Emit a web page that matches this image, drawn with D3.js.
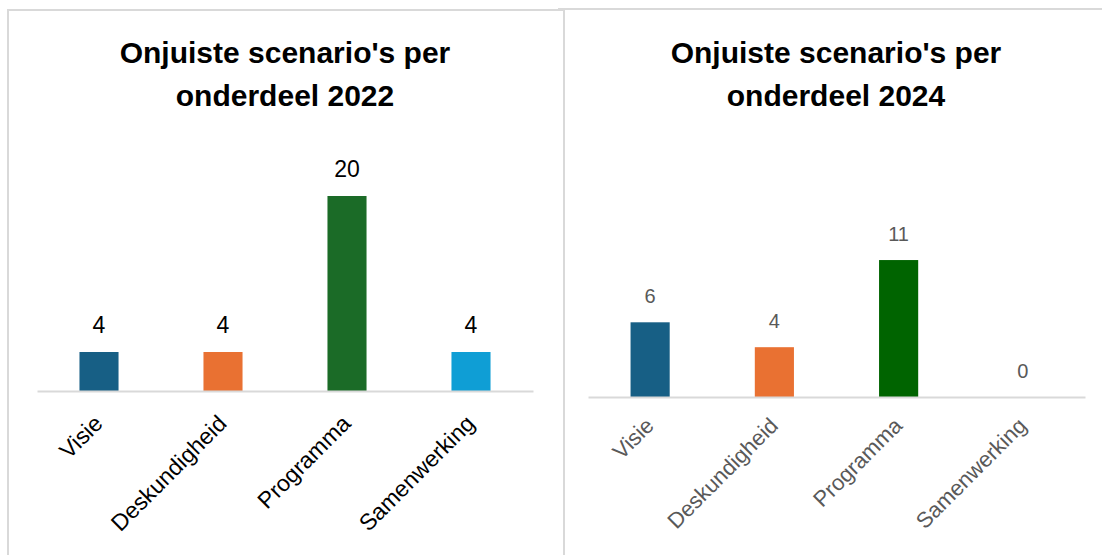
<!DOCTYPE html>
<html lang="nl">
<head>
  <meta charset="UTF-8">
  <title>Onjuiste scenario's per onderdeel</title>
  <script src="https://cdn.jsdelivr.net/npm/d3@7"></script>
  <style>
    body { margin: 0; background: #fff; }
    svg { display: block; }
    .title { font-family: "Liberation Sans", Arial, sans-serif; font-weight: bold; fill: #000; }
    .frame { stroke: #d9d9d9; stroke-width: 2; fill: none; }
  </style>
</head>
<body>
  <svg id="chart" width="1102" height="555"></svg>
  <script>
    // data
    const categories = ["Visie", "Deskundigheid", "Programma", "Samenwerking"];
    const values2022 = [4, 4, 20, 4];
    const values2024 = [6, 4, 11, 0];
    const colors2022 = ["#175f85", "#e97132", "#1b6b27", "#0f9ed5"];
    const colors2024 = ["#175f85", "#e97132", "#006400", "#0f9ed5"];

    const svg = d3.select("#chart");

    // panel frames
    svg.append("path").attr("class", "frame").attr("d", "M8,555V10H564");
    svg.append("path").attr("class", "frame").attr("d", "M558,9H1102M564,9V555");

    const panels = [
      {
        title: ["Onjuiste scenario's per", "onderdeel 2022"],
        cx: 285, values: values2022, colors: colors2022,
        x0: 37, x1: 533, base: 391, top: 147.25, max: 25,
        text: "#000", valueSize: 23, catSize: 23, catShift: [5, 34]
      },
      {
        title: ["Onjuiste scenario's per", "onderdeel 2024"],
        cx: 836, values: values2024, colors: colors2024,
        x0: 588, x1: 1085, base: 397, top: 247.6, max: 12,
        text: "#595959", valueSize: 20, catSize: 22, catShift: [5, 30]
      }
    ];

    panels.forEach(p => {
      const g = svg.append("g");

      g.selectAll("text.title")
        .data(p.title)
        .enter()
        .append("text")
        .attr("class", "title")
        .attr("x", p.cx)
        .attr("y", (d, i) => 63 + i * 43)
        .attr("text-anchor", "middle")
        .style("font-size", "30px")
        .text(d => d);

      const x = d3.scaleBand()
        .domain(categories)
        .range([p.x0, p.x1])
        .paddingInner(0.685)
        .paddingOuter(0.3425);

      const y = d3.scaleLinear()
        .domain([0, p.max])
        .range([p.base, p.top]);

      const data = categories.map((c, i) => ({ cat: c, value: p.values[i], color: p.colors[i] }));

      g.selectAll("rect")
        .data(data)
        .enter()
        .append("rect")
        .attr("x", d => x(d.cat))
        .attr("y", d => y(d.value))
        .attr("width", x.bandwidth())
        .attr("height", d => y(0) - y(d.value))
        .attr("fill", d => d.color);

      g.selectAll("text.val")
        .data(data)
        .enter()
        .append("text")
        .attr("class", "val")
        .attr("x", d => x(d.cat) + x.bandwidth() / 2)
        .attr("y", d => y(d.value) - 19)
        .attr("text-anchor", "middle")
        .style("font-family", "'Liberation Sans', Arial, sans-serif")
        .style("font-size", p.valueSize + "px")
        .style("fill", p.text)
        .text(d => d.value);

      const axis = g.append("g")
        .attr("transform", `translate(0,${p.base})`)
        .call(d3.axisBottom(x).tickSize(0).tickSizeOuter(0));

      axis.select(".domain")
        .attr("stroke", "#d9d9d9")
        .attr("stroke-width", 2);

      axis.selectAll(".tick text")
        .attr("y", 0)
        .attr("dy", 0)
        .attr("text-anchor", "end")
        .attr("transform", `translate(${p.catShift[0]},${p.catShift[1]}) rotate(-45)`)
        .style("font-family", "'Liberation Sans', Arial, sans-serif")
        .style("font-size", p.catSize + "px")
        .style("fill", p.text);
    });
  </script>
</body>
</html>
